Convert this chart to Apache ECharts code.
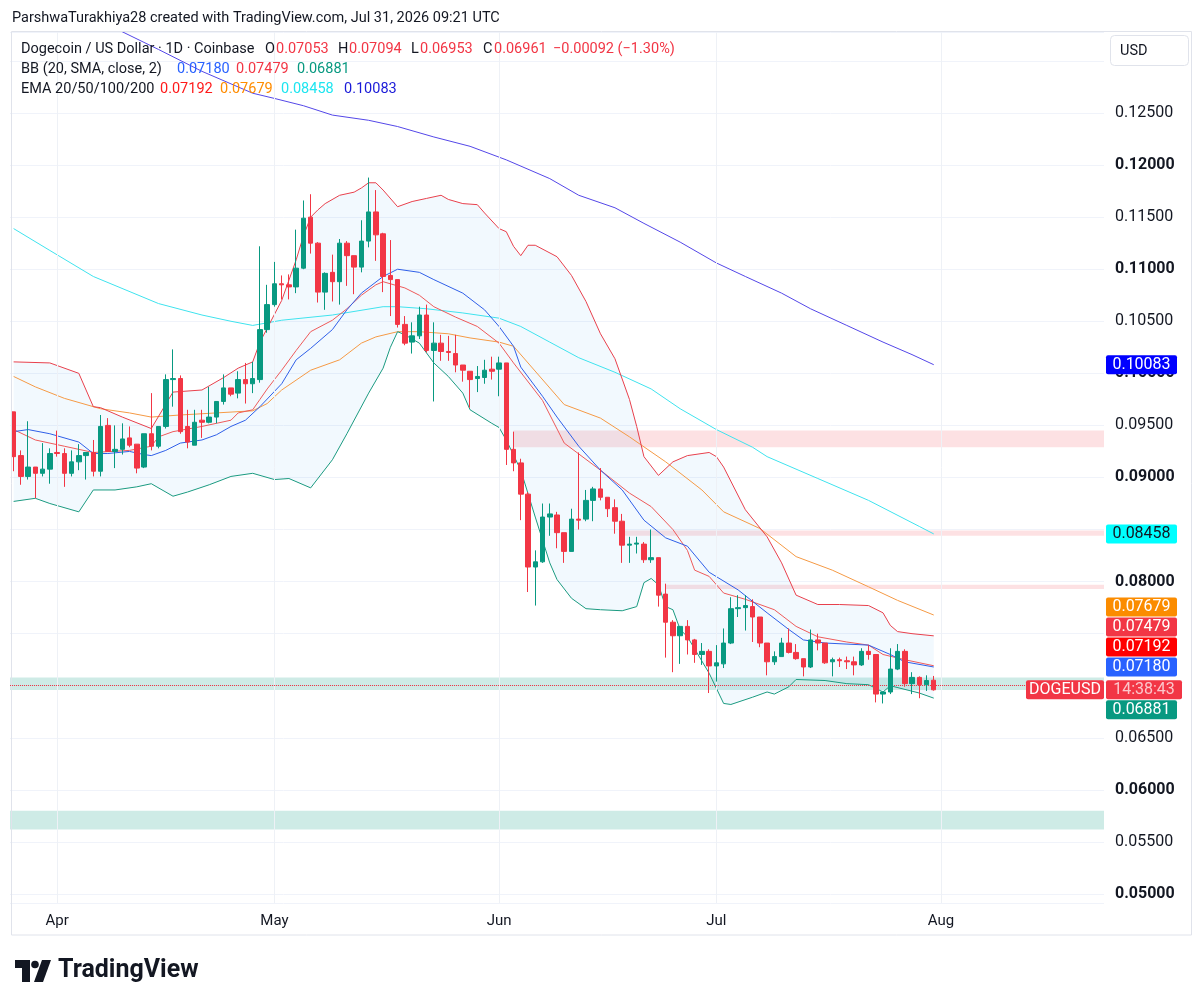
<!DOCTYPE html>
<html><head><meta charset="utf-8">
<script src="https://cdn.jsdelivr.net/npm/echarts@6/dist/echarts.min.js"></script>
<style>html,body{margin:0;padding:0;background:#fff}#c{width:1204px;height:1005px}</style>
</head><body><div id="c"></div>
<script>
// ---------------- DATA ----------------
const START_DATE = [2026, 2, 26];   // Mar 26, 2026 (first candle)
const DAY_COUNT = 151;              // axis runs to Aug 23
const MONTHS = ['Jan','Feb','Mar','Apr','May','Jun','Jul','Aug','Sep','Oct','Nov','Dec'];

const OPEN = [
.0963,.0921,.0901,.0910,.0904,.0908,.0924,.0923,.0904,.0915,
.0921,.0924,.0906,.0950,.0925,.0927,.0938,.0932,.0910,.0942,
.0930,.0949,.0994,.0995,.0949,.0931,.0955,.0953,.0958,.0973,
.0986,.0981,.0994,.0990,.0994,.1042,.1066,.1086,.1085,.1083,
.1101,.1150,.1125,.1078,.1097,.1088,.1125,.1113,.1102,.1127,
.1155,.1134,.1094,.1090,.1047,.1030,.1036,.1056,.1022,.1029,
.1021,.1019,.1008,.1002,.0995,.0996,.1004,.1004,.1010,.0927,
.0914,.0884,.0814,.0819,.0862,.0864,.0847,.0829,.0860,.0860,
.0878,.0889,.0881,.0871,.0858,.0835,.0836,.0836,.0821,.0823,
.0788,.0761,.0748,.0757,.0744,.0730,.0733,.0719,.0721,.0741,
.0774,.0775,.0776,.0766,.0741,.0723,.0728,.0741,.0732,.0726,
.0718,.0744,.0741,.0723,.0725,.0724,.0723,.0720,.0733,.0730,
.0692,.0694,.0716,.0733,.0702,.0708,.0701,.07053];
const CLOSE = [
.0920,.0901,.0910,.0904,.0908,.0923,.0923,.0904,.0915,.0921,
.0924,.0906,.0949,.0925,.0927,.0937,.0931,.0909,.0942,.0930,
.0949,.0994,.0995,.0944,.0934,.0953,.0953,.0958,.0973,.0986,
.0980,.0994,.0990,.0995,.1042,.1066,.1086,.1085,.1083,.1101,
.1149,.1125,.1078,.1096,.1088,.1125,.1113,.1102,.1127,.1155,
.1133,.1093,.1090,.1047,.1029,.1036,.1056,.1022,.1029,.1021,
.1020,.1008,.1003,.0994,.0997,.1003,.1002,.1010,.0927,.0914,
.0884,.0814,.0819,.0862,.0865,.0847,.0829,.0860,.0859,.0878,
.0889,.0881,.0870,.0858,.0835,.0836,.0837,.0821,.0823,.0787,
.0761,.0748,.0757,.0744,.0730,.0733,.0719,.0722,.0741,.0774,
.0775,.0777,.0766,.0741,.0723,.0728,.0741,.0732,.0726,.0718,
.0744,.0741,.0722,.0725,.0724,.0723,.0720,.0733,.0730,.0692,
.0694,.0716,.0733,.0702,.0708,.0701,.0705,.06961];
const LOW = [
.0906,.0893,.0898,.0880,.0901,.0894,.0920,.0891,.0901,.0907,
.0898,.0901,.0901,.0925,.0909,.0922,.0929,.0904,.0909,.0926,
.0928,.0947,.0968,.0942,.0928,.0931,.0938,.0952,.0952,.0970,
.0978,.0976,.0971,.0981,.0991,.1039,.1064,.1071,.1071,.1077,
.1100,.1115,.1068,.1061,.1069,.1066,.1084,.1076,.1097,.1121,
.1108,.1078,.1055,.1044,.1027,.1019,.1033,.1020,.0973,.1012,
.1012,.1001,.0992,.0967,.0982,.0990,.0994,.0978,.0912,.0906,
.0859,.0790,.0777,.0818,.0844,.0832,.0818,.0829,.0850,.0858,
.0858,.0878,.0862,.0846,.0818,.0818,.0827,.0818,.0818,.0776,
.0727,.0713,.0721,.0730,.0722,.0720,.0693,.0704,.0717,.0740,
.0766,.0753,.0742,.0737,.0710,.0720,.0728,.0731,.0725,.0709,
.0717,.0734,.0721,.0709,.0718,.0716,.0710,.0719,.0725,.0684,
.0683,.0692,.0715,.0699,.0692,.0688,.0695,.06953];
const HIGH = [
.0963,.0926,.0954,.0910,.0933,.0928,.0945,.0928,.0926,.0932,
.0924,.0936,.0960,.0957,.0950,.0952,.0949,.0932,.0942,.0981,
.0949,.0999,.1023,.0998,.0965,.0965,.0965,.0987,.0973,.0999,
.0986,.1002,.1010,.1011,.1122,.1085,.1107,.1094,.1095,.1138,
.1166,.1172,.1126,.1097,.1114,.1129,.1127,.1113,.1147,.1188,
.1176,.1135,.1128,.1090,.1055,.1049,.1064,.1066,.1049,.1037,
.1036,.1037,.1008,.1002,.1007,.1013,.1016,.1016,.1010,.0944,
.0918,.0886,.0830,.0875,.0875,.0867,.0847,.0870,.0924,.0888,
.0891,.0909,.0881,.0879,.0865,.0843,.0843,.0838,.0850,.0823,
.0798,.0763,.0757,.0763,.0745,.0741,.0735,.0739,.0755,.0785,
.0787,.0787,.0783,.0766,.0741,.0733,.0746,.0755,.0740,.0726,
.0754,.0750,.0741,.0727,.0727,.0728,.0728,.0736,.0739,.0730,
.0694,.0736,.0740,.0735,.0713,.0709,.0710,.07094];

// indicator lines: [day index, value]
const BB_UPPER = [[0,.1011],[5,.1010],[9,.1000],[11,.0968],[12,.0967],[15,.0958],[19,.0947],[22,.0982],[26,.0984],[29,.0996],[31,.1005],[33,.1011],[34,.1030],[37,.1070],[39,.1109],[40,.1132],[41,.1150],[42,.1157],[43,.1163],[45,.1171],[47,.1174],[48,.1178],[49,.1183],[50,.1183],[51,.1176],[53,.1160],[55,.1165],[57,.1168],[59,.1171],[60,.1167],[62,.1163],[64,.1162],[65,.1154],[67,.1139],[68,.1136],[69,.1122],[70,.1113],[71,.1123],[72,.1123],[75,.1112],[77,.1094],[79,.1069],[81,.1038],[83,.1014],[85,.0975],[86,.0949],[87,.0920],[89,.0902],[91,.0915],[93,.0921],[96,.0924],[97,.0920],[98,.0910],[101,.0869],[104,.0843],[106,.0818],[108,.0787],[111,.0778],[114,.0778],[118,.0777],[120,.0770],[121,.0758],[122,.0752],[124,.0750],[127,.07479]];
const BB_BASIS = [[0,.0944],[2,.0946],[5,.0942],[9,.0934],[11,.0923],[13,.0923],[16,.0925],[18,.0922],[19,.0921],[21,.0926],[23,.0933],[26,.0936],[28,.0941],[30,.0949],[32,.0955],[34,.0968],[37,.0990],[39,.1013],[41,.1024],[44,.1042],[46,.1061],[48,.1077],[51,.1093],[53,.1100],[56,.1097],[58,.1090],[62,.1077],[65,.1061],[67,.1045],[69,.1026],[70,.1006],[73,.0978],[75,.0958],[78,.0930],[81,.0907],[84,.0888],[87,.0859],[90,.0842],[93,.0834],[96,.0809],[100,.0792],[104,.0770],[107,.0754],[109,.0744],[112,.0741],[118,.0739],[121,.0730],[123,.0723],[127,.07180]];
const BB_LOWER = [[0,.0877],[3,.0880],[5,.0875],[9,.0867],[11,.0888],[14,.0888],[17,.0891],[19,.0894],[22,.0882],[24,.0886],[27,.0893],[30,.0901],[33,.0904],[36,.0898],[38,.0899],[41,.0890],[44,.0917],[46,.0942],[49,.0981],[51,.1005],[52,.1025],[53,.1040],[54,.1037],[56,.1029],[58,.1010],[60,.0997],[62,.0981],[63,.0965],[66,.0952],[67,.0948],[68,.0936],[70,.0907],[72,.0862],[74,.0818],[75,.0802],[77,.0784],[79,.0774],[81,.0773],[84,.0772],[86,.0776],[87,.0799],[88,.0803],[89,.0797],[90,.0776],[91,.0773],[92,.0754],[93,.0747],[96,.0712],[98,.0683],[99,.0682],[102,.0689],[104,.0694],[105,.0692],[107,.0699],[108,.0706],[112,.0705],[115,.0702],[118,.0701],[120,.0694],[121,.0700],[125,.0693],[127,.06881]];
const EMA20 = [[0,.0946],[3,.0936],[7,.0930],[11,.0924],[16,.0926],[19,.0930],[20,.0939],[22,.0944],[26,.0949],[28,.0952],[30,.0955],[31,.0962],[33,.0965],[34,.0975],[35,.0985],[37,.1003],[39,.1022],[41,.1040],[44,.1051],[46,.1062],[48,.1075],[50,.1085],[51,.1088],[54,.1082],[56,.1075],[58,.1064],[61,.1054],[64,.1045],[67,.1029],[69,.1010],[73,.0974],[76,.0933],[81,.0907],[85,.0885],[88,.0872],[91,.0850],[93,.0830],[94,.0811],[96,.0805],[98,.0789],[101,.0783],[105,.0773],[108,.0757],[111,.0747],[115,.0742],[118,.0739],[120,.0730],[123,.0725],[127,.07192]];
const EMA50 = [[0,.0997],[3,.0987],[7,.0976],[12,.0966],[16,.0962],[19,.0958],[23,.0960],[28,.0962],[33,.0964],[35,.0971],[37,.0984],[41,.1003],[45,.1013],[48,.1029],[50,.1035],[53,.1040],[56,.1040],[60,.1038],[63,.1034],[67,.1030],[69,.1026],[76,.0970],[81,.0957],[85,.0939],[90,.0915],[95,.0888],[98,.0867],[103,.0851],[108,.0824],[113,.0811],[118,.0795],[122,.0782],[127,.07679]];
const EMA100 = [[0,.1139],[5,.1118],[11,.1093],[20,.1067],[26,.1056],[30,.1050],[33,.1046],[37,.1051],[44,.1056],[51,.1064],[53,.1064],[57,.1062],[62,.1058],[67,.1053],[70,.1045],[74,.1030],[78,.1015],[83,.1001],[88,.0985],[92,.0966],[97,.0946],[102,.0929],[104,.0920],[111,.0899],[118,.0878],[125,.0853],[127,.08458]];
const EMA200 = [[0,.1379],[15,.1328],[20,.1311],[26,.1290],[33,.1269],[36,.1264],[40,.1257],[44,.1248],[49,.1243],[53,.1237],[58,.1227],[63,.1218],[68,.1205],[74,.1187],[78,.1171],[83,.1159],[87,.1144],[92,.1126],[97,.1106],[101,.1093],[106,.1077],[110,.1062],[115,.1046],[120,.1030],[124,.1018],[127,.10083]];

// drawn zones (start day index, -1 = from left edge), kind 0 = resistance, 1 = support
const ZONE_START  = [69, 84, 90, -1, -1];
const ZONE_TOP    = [0.0945, 0.0849, 0.0797, 0.0708, 0.0580];
const ZONE_BOTTOM = [0.0929, 0.0844, 0.0793, 0.0696, 0.0562];
const ZONE_KIND   = [0, 0, 0, 1, 1];

// legend values
const LAST_OHLC = [0.07053, 0.07094, 0.06953, 0.06961];
const CHANGE = [-0.00092, -1.30];
const BB_LAST = [0.07180, 0.07479, 0.06881];
const EMA_LAST = [0.07192, 0.07679, 0.08458, 0.10083];
const COUNTDOWN = '14:38:43';
const SYMBOL = 'DOGEUSD';

// ---------------- BUILD ----------------
const DATES = [];
for (let i = 0; i < DAY_COUNT; i++) {
  const d = new Date(Date.UTC(START_DATE[0], START_DATE[1], START_DATE[2] + i));
  DATES.push(d.toISOString().slice(0, 10));
}
const MONTH_DATES = DATES.filter(d => d.endsWith('-01'));
const CANDLES = OPEN.map((o, i) => [o, CLOSE[i], LOW[i], HIGH[i]]);

const FONT = 'Roboto, "Noto Sans", "DejaVu Sans", sans-serif';
const RED = '#f23645', GREEN = '#089981', DARK = '#131722';
const Y_MIN = 0.049136, Y_MAX = 0.132779;

const chart = echarts.init(document.getElementById('c'));

function lineS(name, data, color, width) {
  return { name, type: 'line', data, showSymbol: false, symbol: 'none', silent: true,
    lineStyle: { color, width: width || 1 }, itemStyle: { color }, z: 3, animation: false };
}

let HIDDEN_LABELS = [];
function yLabel(v) {
  if (HIDDEN_LABELS.some(h => Math.abs(h - v) < 1e-7)) return '';
  return (Math.round(v * 200) % 2 === 0 ? '{b|' : '{n|') + v.toFixed(5) + '}';
}

const option = {
  animation: false,
  grid: { left: 10, right: 100, top: 32, bottom: 102 },
  xAxis: {
    type: 'category', data: DATES, boundaryGap: true,
    axisLine: { show: false }, axisTick: { show: false }, splitLine: { show: false },
    axisLabel: {
      interval: (i, v) => v.endsWith('-01'),
      formatter: v => MONTHS[+v.slice(5, 7) - 1],
      color: DARK, fontSize: 15, fontFamily: FONT, margin: 11
    }
  },
  yAxis: {
    type: 'value', position: 'right', scale: true, min: Y_MIN, max: Y_MAX,
    splitNumber: 17, minInterval: 0.005, maxInterval: 0.005,
    axisLine: { show: false }, axisTick: { show: false },
    splitLine: { lineStyle: { color: '#f0f3fa', width: 1 } },
    axisLabel: {
      showMinLabel: false, showMaxLabel: false, margin: 11, align: 'left',
      formatter: yLabel,
      rich: {
        b: { fontSize: 16, fontWeight: 'bold', color: DARK, fontFamily: FONT },
        n: { fontSize: 16, color: DARK, fontFamily: FONT }
      }
    }
  },
  series: [
    { // zones
      type: 'custom', z: 1, silent: true, animation: false,
      dimensions: [{name:'s',type:'number'},{name:'t',type:'number'},{name:'b',type:'number'},{name:'k',type:'number'}],
      encode: { x: 0, y: [1, 2] },
      data: ZONE_START.map((s, i) => [s, ZONE_TOP[i], ZONE_BOTTOM[i], ZONE_KIND[i]]),
      renderItem(params, api) {
        const cs = params.coordSys;
        const a = api.coord([api.value(0), api.value(1)]);
        const b = api.coord([api.value(0), api.value(2)]);
        const x0 = Math.max(cs.x, a[0]);
        const x1 = cs.x + cs.width;
        return { type: 'rect', shape: { x: x0, y: a[1], width: x1 - x0, height: b[1] - a[1] },
          style: { fill: api.value(3) === 1 ? 'rgba(8,153,129,0.2)' : 'rgba(242,54,69,0.15)' } };
      }
    },
    { // bollinger fill
      type: 'custom', z: 1, silent: true, animation: false,
      dimensions: [{name:'x',type:'number'},{name:'y',type:'number'}],
      encode: { x: 0, y: 1 }, data: [[0, BB_BASIS[0][1]]],
      renderItem(params, api) {
        const pts = BB_UPPER.map(p => api.coord(p)).concat(BB_LOWER.slice().reverse().map(p => api.coord(p)));
        return { type: 'polygon', shape: { points: pts }, style: { fill: 'rgba(33,150,243,0.06)' } };
      }
    },
    { // month grid lines
      type: 'line', data: [], z: 1, silent: true,
      markLine: { silent: true, symbol: ['none', 'none'], label: { show: false }, animation: false,
        lineStyle: { color: '#eef1f6', width: 1, type: 'solid' },
        data: MONTH_DATES.map(d => ({ xAxis: d })) }
    },
    lineS('EMA200', EMA200, '#5447e8'),
    lineS('EMA100', EMA100, '#3fe3ee'),
    lineS('EMA50', EMA50, '#f59a45'),
    lineS('BB Upper', BB_UPPER, '#e8404c'),
    lineS('BB Lower', BB_LOWER, '#1a9a80'),
    lineS('EMA20', EMA20, '#ee5a5a'),
    lineS('BB Basis', BB_BASIS, '#2f5fe8'),
    {
      type: 'candlestick', data: CANDLES, barWidth: 5, z: 5, silent: true, animation: false,
      itemStyle: { color: GREEN, color0: RED, borderColor: GREEN, borderColor0: RED, borderWidth: 1 },
      markLine: { symbol: ['none', 'none'], silent: true, label: { show: false }, animation: false,
        lineStyle: { color: RED, type: 'dotted', width: 1 },
        data: [{ yAxis: LAST_OHLC[3] }] }
    }
  ]
};
chart.setOption(option);

// ---------------- GRAPHICS (texts, tags, logo) ----------------
const G = [];
function txt(text, x, y, fill, font, extra) {
  G.push({ type: 'text', x, y, z: 60, silent: true,
    style: Object.assign({ text, fill, font, verticalAlign: 'middle', align: 'left' }, extra || {}) });
}
function rect(x, y, w, h, fill, stroke, r, z) {
  G.push({ type: 'rect', z: z || 55, silent: true, shape: { x, y, width: w, height: h, r: r || 0 },
    style: { fill: fill || 'none', stroke: stroke || null, lineWidth: 1 } });
}
const F14 = '14.5px ' + FONT;
const F15 = '16px ' + FONT;

// frame
rect(11.5, 31.5, 1180, 903.5, null, '#e0e3eb', 0, 40);

// header
txt('ParshwaTurakhiya28 created with TradingView.com, Jul 31, 2026 09:21 UTC', 12, 18, DARK, F14);

// legend line 1
const fmt = v => v.toFixed(5);
const neg = v => (v < 0 ? '\u2212' : '') + Math.abs(v).toFixed(5);
txt('Dogecoin / US Dollar \u00b7 1D \u00b7 Coinbase', 21, 49, DARK, F14);
txt('O', 265, 49, DARK, F14); txt(fmt(LAST_OHLC[0]), 276, 49, RED, F14);
txt('H', 338, 49, DARK, F14); txt(fmt(LAST_OHLC[1]), 349, 49, RED, F14);
txt('L', 411, 49, DARK, F14); txt(fmt(LAST_OHLC[2]), 420, 49, RED, F14);
txt('C', 483, 49, DARK, F14); txt(fmt(LAST_OHLC[3]), 494, 49, RED, F14);
txt(neg(CHANGE[0]) + ' (' + (CHANGE[1] < 0 ? '\u2212' : '') + Math.abs(CHANGE[1]).toFixed(2) + '%)', 553, 49, RED, F14);
// legend line 2
txt('BB (20, SMA, close, 2)', 21, 69, DARK, F14);
txt(fmt(BB_LAST[0]), 177, 69, '#2962ff', F14);
txt(fmt(BB_LAST[1]), 236, 69, RED, F14);
txt(fmt(BB_LAST[2]), 297, 69, GREEN, F14);
// legend line 3
txt('EMA 20/50/100/200', 21, 89, DARK, F14);
txt(fmt(EMA_LAST[0]), 160, 89, '#ff1a1a', F14);
txt(fmt(EMA_LAST[1]), 220, 89, '#ff8c00', F14);
txt(fmt(EMA_LAST[2]), 281, 89, '#1ee5f0', F14);
txt(fmt(EMA_LAST[3]), 344, 89, '#1a1ad8', F14);

// USD box
rect(1110.5, 35.5, 78, 30, '#ffffff', '#e0e3eb', 4, 56);
txt('USD', 1120, 51, DARK, F14);

// price tags (stacked like TradingView)
const tags = [
  { v: EMA_LAST[3], bg: '#0000ff', fg: '#ffffff' },
  { v: EMA_LAST[2], bg: '#00ffff', fg: DARK },
  { v: EMA_LAST[1], bg: '#fb8c00', fg: '#ffffff' },
  { v: BB_LAST[1], bg: RED, fg: '#ffffff' },
  { v: EMA_LAST[0], bg: '#ff0000', fg: '#ffffff' },
  { v: BB_LAST[0], bg: '#2962ff', fg: '#ffffff' },
  { v: LAST_OHLC[3], bg: RED, fg: 'rgba(255,255,255,0.72)', last: true },
  { v: BB_LAST[2], bg: GREEN, fg: '#ffffff' }
].sort((a, b) => b.v - a.v);
const H = 20;
tags.forEach(t => { t.y = chart.convertToPixel({ yAxisIndex: 0 }, t.v); });
const li = tags.findIndex(t => t.last);
for (let i = li - 1; i >= 0; i--) tags[i].y = Math.min(tags[i].y, tags[i + 1].y - H);
for (let i = li + 1; i < tags.length; i++) tags[i].y = Math.max(tags[i].y, tags[i - 1].y + H);
tags.forEach(t => {
  const w = t.last ? 76 : 71;
  rect(1106, t.y - 9.5, w, 19, t.bg, null, 2, 57);
  txt(t.last ? COUNTDOWN : fmt(t.v), 1106 + w / 2, t.y + 0.5, t.fg, F15, { align: 'center' });
  if (t.last) {
    rect(1026, t.y - 9.5, 78, 19, RED, null, 2, 57);
    txt(SYMBOL, 1065, t.y + 0.5, '#ffffff', F15, { align: 'center' });
  }
});

// axis labels that sit right behind a tag are not drawn
for (let v = 0.05; v <= 0.1301; v += 0.005) {
  const tv = Math.round(v * 1000) / 1000;
  const py = chart.convertToPixel({ yAxisIndex: 0 }, tv);
  if (tags.some(t => Math.abs(t.y - py) < 7)) HIDDEN_LABELS.push(tv);
}

// TradingView logo
G.push({ type: 'polygon', z: 60, silent: true, shape: { points: [[15,960],[30,960],[30,982],[22,982],[22,968],[15,968]] }, style: { fill: DARK } });
G.push({ type: 'circle', z: 60, silent: true, shape: { cx: 35, cy: 964.5, r: 3.8 }, style: { fill: DARK } });
G.push({ type: 'polygon', z: 60, silent: true, shape: { points: [[42,960],[51,960],[43,982],[34,982]] }, style: { fill: DARK } });
txt('TradingView', 58, 971, DARK, 'bold 25px ' + FONT);

chart.setOption({ graphic: G, yAxis: { axisLabel: { formatter: yLabel } } });
</script>
</body></html>
